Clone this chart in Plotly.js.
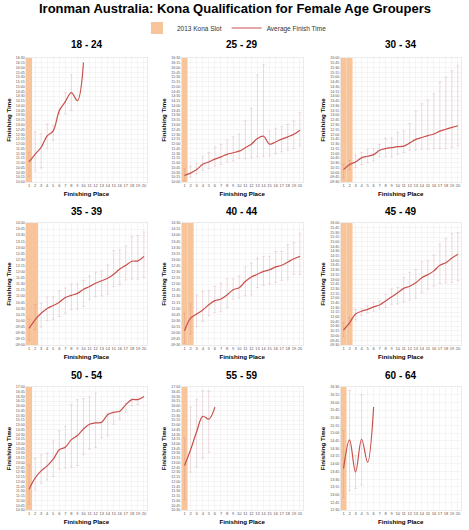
<!DOCTYPE html>
<html><head><meta charset="utf-8">
<script src="https://cdn.plot.ly/plotly-3.0.1.min.js"></script>
<style>html,body{margin:0;padding:0;background:#fff;}#chart{width:469px;height:530px;}</style>
</head><body><div id="chart"></div>
<script>
const groups = ["18 - 24","25 - 29","30 - 34","35 - 39","40 - 44","45 - 49","50 - 54","55 - 59","60 - 64"];
const konaSlots = [1,1,2,2,2,2,1,1,1];
const places = [1,2,3,4,5,6,7,8,9,10,11,12,13,14,15,16,17,18,19,20];
const axisMin = ["10:00","10:00","09:30","09:00","09:30","09:30","10:30","10:30","12:30"];
const axisMax = ["16:30","16:30","16:00","14:00","14:30","16:00","17:00","17:00","16:30"];

const avg_18_24 = ["11:03","11:27","11:49","12:25","12:41","13:44","14:13","14:41","14:16","16:16"];
const min_18_24 = ["10:18","10:35","10:44","11:45","12:10","13:34","13:34","13:45",null,null];
const max_18_24 = ["11:32","12:38","12:33","13:02","12:57","13:50","14:41","15:37",null,null];

const avg_25_29 = ["10:21","10:28","10:39","10:56","11:03","11:12","11:19","11:27","11:32","11:37","11:48","11:59","12:17","12:24","11:59","12:06","12:15","12:22","12:30","12:43"];
const min_25_29 = ["10:05","10:16","10:26","10:37","10:42","10:50","10:55","11:03","11:06","11:14","11:14","11:17","11:19","11:21","11:22","11:30","11:35","11:40","11:45","11:53"];
const max_25_29 = ["10:42","10:50","10:58","11:21","11:33","11:51","11:58","12:12","12:22","12:31","13:12","13:52","15:37","16:09","12:40","12:49","12:54","13:01","13:12","13:38"];

const avg_30_34 = ["10:09","10:25","10:33","10:46","10:51","10:56","11:10","11:15","11:18","11:21","11:23","11:33","11:44","11:50","11:56","12:01","12:10","12:16","12:22","12:27"];
const min_30_34 = ["09:44","10:09","10:15","10:25","10:31","10:36","10:49","10:49","10:49","10:57","11:03","11:10","11:10","11:13","11:13","11:15","11:15","11:15","11:19","11:24"];
const max_30_34 = ["10:26","10:38","10:54","11:03","11:13","11:15","11:28","11:47","11:49","12:06","12:10","12:34","13:13","13:36","13:48","14:07","14:44","15:00","15:20","15:37"];

const avg_35_39 = ["09:41","10:02","10:18","10:30","10:37","10:45","10:57","11:02","11:07","11:17","11:24","11:32","11:38","11:44","11:54","12:07","12:16","12:26","12:27","12:38"];
const min_35_39 = ["09:12","09:37","09:44","10:00","10:03","10:10","10:18","10:26","10:28","10:35","10:51","10:59","11:01","11:05","11:24","11:28","11:40","11:42","11:42","11:46"];
const max_35_39 = ["10:04","10:40","10:43","10:58","10:58","11:13","11:20","11:30","11:30","11:39","11:50","11:59","12:02","12:17","12:52","12:54","13:04","13:26","13:29","13:38"];

const avg_40_44 = ["10:05","10:36","10:46","10:56","11:09","11:19","11:23","11:33","11:46","11:51","12:06","12:17","12:24","12:31","12:35","12:42","12:46","12:54","13:02","13:08"];
const min_40_44 = ["09:34","09:57","10:15","10:28","10:42","10:50","10:52","11:02","11:23","11:25","11:31","11:33","11:51","11:57","12:00","12:04","12:09","12:10","12:24","12:24"];
const max_40_44 = ["10:48","11:11","11:33","11:42","11:44","11:54","12:02","12:13","12:13","12:20","12:42","12:51","13:04","13:08","13:08","13:20","13:20","13:37","13:42","14:05"];

const avg_45_49 = ["10:18","10:41","11:09","11:18","11:24","11:32","11:38","11:51","12:04","12:17","12:31","12:38","12:49","13:05","13:15","13:27","13:45","13:53","14:08","14:20"];
const min_45_49 = ["09:57","10:34","10:50","11:05","11:13","11:18","11:25","11:30","11:40","11:41","11:48","11:53","12:00","12:17","12:28","12:38","12:47","12:49","12:50","12:55"];
const max_45_49 = ["10:42","10:58","11:24","11:26","11:35","11:47","11:50","12:12","12:29","12:34","13:06","13:22","13:31","13:56","13:59","14:17","14:52","15:10","15:26","15:29"];

const avg_50_54 = ["11:36","12:11","12:34","12:50","13:11","13:41","13:49","14:13","14:26","14:47","15:02","15:06","15:08","15:32","15:40","15:43","16:04","16:20","16:20","16:30"];
const min_50_54 = ["10:48","11:34","11:55","12:05","12:16","12:39","12:43","12:46","12:51","13:25","13:43","13:48","14:18","14:25","15:02","15:18","15:40","16:01","16:04",null];
const max_50_54 = ["12:53","13:14","13:25","13:30","14:09","14:41","14:55","16:04","16:20","16:23","16:28","16:41","15:08","15:37","15:40","15:43","16:09","16:22","16:22",null];

const avg_55_59 = ["12:51","13:41","14:39","15:27","15:18","15:56"];
const min_55_59 = ["11:02","12:30","12:46","13:14","13:33",null];
const max_55_59 = ["14:18","15:56","16:20","16:48","16:48",null];

const avg_60_64 = ["13:51","14:47","13:44","14:48","14:03","15:51"];
const min_60_64 = ["12:54","13:08","13:12","13:19",null,null];
const max_60_64 = ["15:05","16:23","14:16","16:15",null,null];

const avgAll = [avg_18_24,avg_25_29,avg_30_34,avg_35_39,avg_40_44,avg_45_49,avg_50_54,avg_55_59,avg_60_64];
const minAll = [min_18_24,min_25_29,min_30_34,min_35_39,min_40_44,min_45_49,min_50_54,min_55_59,min_60_64];
const maxAll = [max_18_24,max_25_29,max_30_34,max_35_39,max_40_44,max_45_49,max_50_54,max_55_59,max_60_64];

function toMin(s){ if(s===null) return null; const p=s.split(':'); return (+p[0])*60+(+p[1]); }
function fmt(v){ const h=Math.floor(v/60), m=v%60; return String(h).padStart(2,'0')+':'+String(m).padStart(2,'0'); }

const W=469,H=530;
const colsPx=[[26,147],[181.5,303],[340.5,461]];
const rowsPx=[[58,182],[223,345],[387,510]];
const titleY=[45,211,375];
const ORANGE='#F8C49A', RED='#C8504D', ERR='rgba(205,120,130,0.32)', GRID='#eeeeee';
const FONT='Liberation Sans, Arial, sans-serif';

const data=[]; const layout={
  width:W,height:H,margin:{l:0,r:0,t:0,b:0},paper_bgcolor:'#fff',plot_bgcolor:'#fff',
  font:{family:FONT,color:'#000'},showlegend:true,
  legend:{orientation:'h',x:0.5,xanchor:'center',y:1-28/H,yanchor:'middle',font:{size:6.5,color:'#333'},itemwidth:30,traceorder:'normal'},
  annotations:[{text:'<b>Ironman Australia: Kona Qualification for Female Age Groupers</b>',xref:'paper',yref:'paper',x:0.5,y:1-9/H,xanchor:'center',yanchor:'middle',showarrow:false,font:{size:13,family:FONT,color:'#000'}}]
};

groups.forEach((g,i)=>{
  const k=i+1, r=Math.floor(i/3), c=i%3;
  const xa='x'+(k===1?'':k), ya='y'+(k===1?'':k);
  const yMin=toMin(axisMin[i]), yMax=toMin(axisMax[i]);
  const avg=avgAll[i].map(toMin), mn=minAll[i].map(toMin), mx=maxAll[i].map(toMin);
  const n=avg.length;
  const kx=places.slice(0,konaSlots[i]);
  data.push({type:'bar',x:kx,y:kx.map(()=>yMax-yMin),base:kx.map(()=>yMin),width:kx.map(()=>1),
    marker:{color:ORANGE,line:{width:0}},name:'2013 Kona Slot',legendgroup:'kona',showlegend:i===0,hoverinfo:'skip',xaxis:xa,yaxis:ya});
  const ex=[],ey=[],ep=[],em=[];
  for(let j=0;j<n;j++){ if(mn[j]!==null&&mx[j]!==null){ ex.push(places[j]); ey.push(avg[j]); ep.push(mx[j]-avg[j]); em.push(avg[j]-mn[j]); } }
  data.push({type:'scatter',mode:'markers',x:ex,y:ey,marker:{size:1,opacity:0},
    error_y:{type:'data',symmetric:false,array:ep,arrayminus:em,color:ERR,thickness:0.7,width:1.5},
    showlegend:false,hoverinfo:'skip',xaxis:xa,yaxis:ya});
  data.push({type:'scatter',mode:'lines',x:places.slice(0,n),y:avg,line:{color:RED,width:1.2,shape:'spline',smoothing:1},
    name:'Average Finish Time',legendgroup:'avg',showlegend:i===0,xaxis:xa,yaxis:ya});
  const tv=[],tt=[]; for(let v=yMin; v<=yMax; v+=15){ tv.push(v); tt.push(fmt(v)); }
  layout['xaxis'+(k===1?'':k)]={domain:[colsPx[c][0]/W,colsPx[c][1]/W],anchor:ya,range:[0.5,20.5],
    tickvals:places,ticktext:places.map(String),tickfont:{size:4,color:'#555'},tickangle:0,ticks:'',
    showgrid:true,gridcolor:GRID,gridwidth:0.6,zeroline:false,showline:true,linecolor:'#dddddd',linewidth:0.6,mirror:true,
    title:{text:'<b>Finishing Place</b>',font:{size:6.2,color:'#000'},standoff:4},fixedrange:true};
  layout['yaxis'+(k===1?'':k)]={domain:[1-rowsPx[r][1]/H,1-rowsPx[r][0]/H],anchor:xa,range:[yMin,yMax],
    tickvals:tv,ticktext:tt,tickfont:{size:3.6,color:'#555'},tickangle:0,ticks:'',
    showgrid:true,gridcolor:GRID,gridwidth:0.6,zeroline:false,showline:true,linecolor:'#dddddd',linewidth:0.6,mirror:true,
    title:{text:'<b>Finishing Time</b>',font:{size:6.2,color:'#000'},standoff:3},fixedrange:true};
  layout.annotations.push({text:'<b>'+g+'</b>',xref:'paper',yref:'paper',x:(colsPx[c][0]+colsPx[c][1])/2/W,y:1-titleY[r]/H,
    xanchor:'center',yanchor:'middle',showarrow:false,font:{size:10,family:FONT,color:'#000'}});
});

Plotly.newPlot('chart',data,layout,{displayModeBar:false,staticPlot:true});
</script></body></html>
